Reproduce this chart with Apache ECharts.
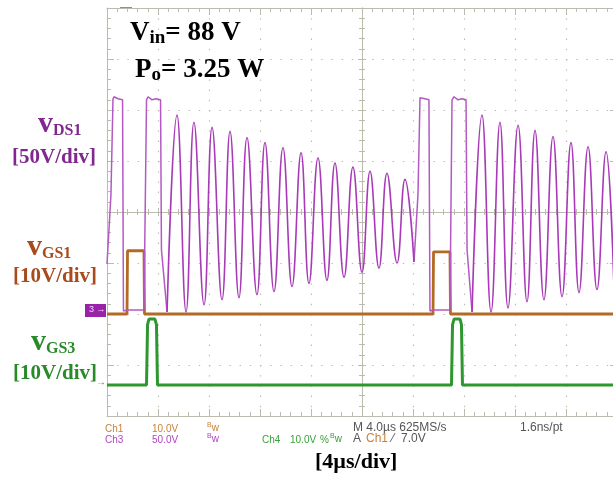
<!DOCTYPE html>
<html>
<head>
<meta charset="utf-8">
<script src="https://cdn.jsdelivr.net/npm/echarts@6/dist/echarts.min.js"></script>
<style>
  html, body { margin: 0; padding: 0; background: #ffffff; }
  #scope { width: 613px; height: 481px; }
</style>
</head>
<body>
<div id="scope"></div>
<script>
// Time in µs (screen centre = 0), voltages in V.

// v_DS1: switching pulses and the clamp interval (null = gap)
const vdsPulseT = [-20.00, -19.69, -19.53, -19.45, -19.14, -18.78, -18.71, -18.43, -17.10, -16.98, -16.90, -16.78, -16.47, -16.16, -15.80, -15.73, -15.29,
                   null,
                   4.08, 4.39, 4.55, 4.63, 4.94, 5.25, 5.33, 5.57, 6.90, 6.98, 7.06, 7.22, 7.53, 7.84, 8.16, 8.24, 8.63];
const vdsPulseV = [47, 115, 209, 211, 209, 208, 1, 2, 2, 1, 208, 211, 208, 209, 208, 61, 0,
                   null,
                   49, 115, 210, 211, 209, 208, 1, 2, 2, 1, 208, 211, 208, 209, 208, 61, 0];

// v_DS1: resonant ringing, alternating valleys and peaks
const vdsRingT = [-15.29, -14.51, -13.80, -13.18, -12.39, -11.76, -10.98, -10.35, -9.65, -9.02, -8.24, -7.61, -6.90, -6.20, -5.49,
                  -4.78, -4.16, -3.45, -2.75, -2.12, -1.41, -0.71, 0.00, 0.63, 1.33, 1.96, 2.75, 3.37, 4.08,
                  null,
                  8.63, 9.41, 10.12, 10.82, 11.45, 12.24, 12.94, 13.57, 14.27, 14.98, 15.69, 16.39, 17.02, 17.73, 18.43, 19.14, 19.76];
const vdsRingV = [0, 193, 0, 186, 7, 181, 12, 177, 14, 171, 17, 166, 20, 161, 25,
                  156, 28, 151, 31, 146, 34, 142, 39, 138, 43, 136, 48, 130, 49,
                  null,
                  0, 193, 0, 186, 4, 183, 10, 178, 12, 172, 15, 166, 19, 162, 22, 157, 25];

// v_GS1 gate drive
const vgs1T = [-20, -18.43, -18.39, -17.10, -17.06, 5.57, 5.61, 6.90, 6.94, 20];
const vgs1V = [0, 0, 12.4, 12.4, 0, 0, 12.2, 12.2, 0, 0];

// v_GS3 gate drive
const vgs3T = [-20, -16.90, -16.82, -16.71, -16.24, -16.12, -16.04, 7.02, 7.10, 7.22, 7.69, 7.80, 7.88, 20];
const vgs3V = [0, 0, 11.8, 12.9, 12.9, 11.8, 0, 0, 11.8, 12.9, 12.9, 11.8, 0, 0];

// Screen: 10 x 8 divisions, 4 µs/div
const timeMin = -20, timeMax = 20, timeDiv = 4;
const divMin = -4, divMax = 4;

// Channel settings: volts per division and ground level (in divisions from centre)
const channels = {
  ds:  { scale: 50, ground: -1.96, color: '#a83ab8' },
  gs1: { scale: 10, ground: -2.00, color: '#b36a22' },
  gs3: { scale: 10, ground: -3.39, color: '#2f972f' }
};

function toScreen(ts, vs, ch) {
  return ts.map((t, i) => (t === null || vs[i] === null) ? [NaN, NaN] : [t, ch.ground + vs[i] / ch.scale]);
}

const GRID = '#bcbcae';
const SERIF = '"Liberation Serif", "Times New Roman", serif';
const SANS = '"Liberation Sans", Arial, sans-serif';

function xAxisDef(position, onZero, tickInside, tickLen, minorLen, split) {
  return {
    type: 'value', position: position, min: timeMin, max: timeMax, interval: timeDiv,
    axisLabel: { show: false },
    axisLine: { show: true, onZero: onZero, onZeroAxisIndex: 0, lineStyle: { color: GRID, width: 1 } },
    axisTick: { show: true, inside: tickInside, length: tickLen, lineStyle: { color: GRID, width: 1 } },
    minorTick: { show: true, splitNumber: 5, length: minorLen, lineStyle: { color: GRID, width: 1 } },
    splitLine: { show: split, lineStyle: { color: GRID, width: 1.2, type: [1.4, 8.8] } }
  };
}
function yAxisDef(position, onZero, tickInside, tickLen, minorLen, split) {
  return {
    type: 'value', position: position, min: divMin, max: divMax, interval: 1,
    axisLabel: { show: false },
    axisLine: { show: true, onZero: onZero, onZeroAxisIndex: 0, lineStyle: { color: GRID, width: 1 } },
    axisTick: { show: true, inside: tickInside, length: tickLen, lineStyle: { color: GRID, width: 1 } },
    minorTick: { show: true, splitNumber: 5, length: minorLen, lineStyle: { color: GRID, width: 1 } },
    splitLine: { show: split, lineStyle: { color: GRID, width: 1.2, type: [1.4, 8.8] } }
  };
}

function trace(data, color, width, smooth, z) {
  return {
    type: 'line', xAxisIndex: 0, yAxisIndex: 0, data: data,
    symbol: 'none', showSymbol: false, smooth: smooth, connectNulls: false,
    lineStyle: { color: color, width: width }, z: z, silent: true
  };
}

const sub = (size, lh, color) => ({ fontFamily: SERIF, fontWeight: 'bold', fontSize: size, lineHeight: lh, color: color, verticalAlign: 'bottom' });
const main = (size, lh, color) => ({ fontFamily: SERIF, fontWeight: 'bold', fontSize: size, lineHeight: lh, color: color });

function label(left, top, text, rich) {
  return { left: left, top: top, padding: 0, text: text, textStyle: { rich: rich } };
}

const PURPLE_TXT = '#80288e', ORANGE_TXT = '#a94a1c', GREEN_TXT = '#2a8a2a';

function readout(left, top, text, color, size) {
  return { type: 'text', left: left, top: top, silent: true,
           style: { text: text, font: (size || 10) + 'px ' + SANS, fill: color } };
}
function bwMark(left, top, color) {
  return { type: 'text', left: left, top: top, silent: true,
           style: { text: '{b|B}{w|w}', rich: { b: { fontSize: 7, fontFamily: SANS, fill: color, verticalAlign: 'top', lineHeight: 12 },
                                                 w: { fontSize: 10, fontFamily: SANS, fill: color, lineHeight: 12 } } } };
}

const chart = echarts.init(document.getElementById('scope'), null, { renderer: 'canvas' });
chart.setOption({
  animation: false,
  backgroundColor: '#ffffff',
  grid: { left: 107, top: 8, width: 510, height: 408, containLabel: false, outerBoundsMode: 'none' },
  xAxis: [
    xAxisDef('bottom', false, true, 7, 4, true),
    xAxisDef('top', false, true, 7, 4, false),
    xAxisDef('bottom', true, true, 4, 3, false),
    xAxisDef('bottom', true, false, 4, 3, false)
  ],
  yAxis: [
    yAxisDef('left', false, true, 7, 4, true),
    yAxisDef('right', false, true, 7, 4, false),
    yAxisDef('left', true, true, 4, 3, false),
    yAxisDef('left', true, false, 4, 3, false)
  ],
  series: [
    trace(toScreen(vgs1T, vgs1V, channels.gs1), channels.gs1.color, 2.8, false, 3),
    trace(toScreen(vgs3T, vgs3V, channels.gs3), channels.gs3.color, 3, false, 3),
    trace(toScreen(vdsPulseT, vdsPulseV, channels.ds), '#b458c4', 1.5, false, 4),
    trace(toScreen(vdsRingT, vdsRingV, channels.ds), channels.ds.color, 1.6, 0.45, 4)
  ],
  title: [
    label(130, 18, '{m|V}{s|in}{m|= 88 V}', { m: main(27, 30, '#000'), s: sub(19, 10, '#000') }),
    label(135, 55, '{m|P}{s|o}{m|= 3.25 W}', { m: main(27, 30, '#000'), s: sub(19, 14, '#000') }),
    label(38, 109, '{v|v}{s|DS1}', { v: main(30, 30, PURPLE_TXT), s: sub(16, 14, PURPLE_TXT) }),
    label(12, 146, '{m|[50V/div]}', { m: main(21, 24, PURPLE_TXT) }),
    label(27, 232, '{v|v}{s|GS1}', { v: main(30, 30, ORANGE_TXT), s: sub(16, 14, ORANGE_TXT) }),
    label(13, 265, '{m|[10V/div]}', { m: main(21, 24, ORANGE_TXT) }),
    label(31, 327, '{v|v}{s|GS3}', { v: main(30, 30, GREEN_TXT), s: sub(16, 14, GREEN_TXT) }),
    label(13, 362, '{m|[10V/div]}', { m: main(21, 24, GREEN_TXT) }),
    label(315, 450, '{m|[4µs/div]}', { m: main(22, 24, '#000') })
  ],
  graphic: [
    // trigger position marker on the top edge
    { type: 'rect', shape: { x: 120, y: 7, width: 12, height: 2 }, style: { fill: '#e0783a' }, silent: true },
    // channel 3 ground marker
    { type: 'group', left: 85, top: 304, silent: true, children: [
      { type: 'rect', shape: { x: 0, y: 0, width: 21, height: 13 }, style: { fill: '#9a22a8' } },
      { type: 'text', left: 4, top: 1, style: { text: '3 →', font: '9px ' + SANS, fill: '#f0d8f4' } }
    ] },
    // channel 4 ground marker
    { type: 'text', left: 96, top: 377, silent: true, style: { text: '→', font: '10px ' + SANS, fill: '#2f972f' } },
    // readout, first row
    readout(105, 424, 'Ch1', '#c8823c'),
    readout(152, 424, '10.0V', '#c8823c'),
    bwMark(207, 422, '#c8823c'),
    readout(353, 422, 'M 4.0µs 625MS/s', '#555555', 12),
    readout(520, 422, '1.6ns/pt', '#555555', 12),
    // readout, second row
    readout(105, 435, 'Ch3', '#b044c0'),
    readout(152, 435, '50.0V', '#b044c0'),
    bwMark(207, 433, '#b044c0'),
    readout(262, 435, 'Ch4', '#3aa03a'),
    readout(290, 435, '10.0V', '#3aa03a'),
    readout(320, 435, '%', '#3aa03a'),
    bwMark(330, 433, '#3aa03a'),
    readout(353, 433, 'A', '#555555', 12),
    readout(366, 433, 'Ch1', '#c8823c', 12),
    readout(392, 433, '⁄', '#555555', 12),
    readout(401, 433, '7.0V', '#555555', 12)
  ]
});
</script>
</body>
</html>
